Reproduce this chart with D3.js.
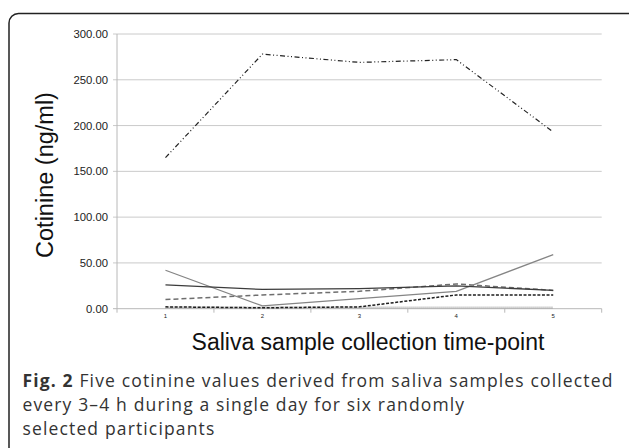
<!DOCTYPE html>
<html>
<head>
<meta charset="utf-8">
<script src="https://cdn.jsdelivr.net/npm/d3@7"></script>
<style>
  html, body { margin: 0; padding: 0; background: #fff; }
  svg { display: block; }
</style>
</head>
<body>
<svg id="chart" width="629" height="448"></svg>
<script>
// ---- data ----
const timePoints = ["1", "2", "3", "4", "5"];
const yTicks = [0, 50, 100, 150, 200, 250, 300];
const participantA = [165, 278, 269, 272, 193];   // dash-dot
const participantB = [26, 21, 22, 25, 20];        // dark solid
const participantC = [42, 3, 11, 19, 59];         // grey solid
const participantD = [10, 15, 19, 27, 20];        // long dashed
const participantE = [2, 1, 2, 15, 15];           // short dashed
const participantF = [1, 1, 1, 1, 1];             // dotted

const series = [
  { name: "F", values: participantF, color: "#a8a8a8", width: 2.4, dash: "1,1" },
  { name: "E", values: participantE, color: "#1e1e1e", width: 1.5, dash: "3,1.6" },
  { name: "D", values: participantD, color: "#6e6e6e", width: 1.5, dash: "5,3" },
  { name: "C", values: participantC, color: "#858585", width: 1.3, dash: null },
  { name: "B", values: participantB, color: "#3c3c3c", width: 1.3, dash: null },
  { name: "A", values: participantA, color: "#222222", width: 1.2, dash: "5,2.5,1,2.5,1,2.5" }
];

const svg = d3.select("#chart");

// frame (left + top rule with rounded corner)
svg.append("path")
  .attr("d", "M9,448 L9,23 A9.5,9.5 0 0 1 18.5,13.5 L629,13.5")
  .attr("fill", "none").attr("stroke", "#222").attr("stroke-width", 1.5);

const plotL = 117, plotR = 601.7, plotT = 34, plotB = 308.7;

const x = d3.scalePoint().domain(timePoints).range([plotL, plotR]).padding(0.5);
const xb = d3.scaleBand().domain(timePoints).range([plotL, plotR]);
const y = d3.scaleLinear().domain([0, 300]).range([plotB, plotT]);

// gridlines
svg.append("g").selectAll("line").data(yTicks).join("line")
  .attr("x1", plotL - 4).attr("x2", plotR)
  .attr("y1", d => y(d)).attr("y2", d => y(d))
  .attr("stroke", d => d === 0 ? "#b8b8b8" : "#cacaca").attr("stroke-width", 1);

// y axis line
svg.append("line")
  .attr("x1", plotL).attr("x2", plotL).attr("y1", plotT).attr("y2", plotB)
  .attr("stroke", "#b8b8b8").attr("stroke-width", 1);

// x tick marks at category boundaries
const bounds = timePoints.map(d => xb(d)).concat([plotR]);
svg.append("g").selectAll("line").data(bounds).join("line")
  .attr("x1", d => d).attr("x2", d => d)
  .attr("y1", plotB).attr("y2", plotB + 4)
  .attr("stroke", "#b8b8b8").attr("stroke-width", 1);

// y tick labels
svg.append("g").selectAll("text").data(yTicks).join("text")
  .attr("x", 108).attr("y", d => y(d) + 4)
  .attr("text-anchor", "end")
  .attr("font-family", "Liberation Sans, Arial, sans-serif")
  .attr("font-size", 11.3).attr("fill", "#222")
  .text(d => d.toFixed(2));

// x tick labels
svg.append("g").selectAll("text").data(timePoints).join("text")
  .attr("x", d => x(d)).attr("y", 317.5)
  .attr("text-anchor", "middle")
  .attr("font-family", "Liberation Sans, Arial, sans-serif")
  .attr("font-size", 6).attr("fill", "#222")
  .text(d => d);

// lines
const line = d3.line().x((d, i) => x(timePoints[i])).y(d => y(d));
svg.append("g").selectAll("path").data(series).join("path")
  .attr("d", d => line(d.values))
  .attr("fill", "none")
  .attr("stroke", d => d.color)
  .attr("stroke-width", d => d.width)
  .attr("stroke-dasharray", d => d.dash);

// axis titles
svg.append("text")
  .attr("x", 368).attr("y", 349.5)
  .attr("text-anchor", "middle")
  .attr("font-family", "Liberation Sans, Arial, sans-serif")
  .attr("font-size", 23).attr("fill", "#111")
  .text("Saliva sample collection time-point");

svg.append("text")
  .attr("transform", "translate(53,175) rotate(-90)")
  .attr("text-anchor", "middle")
  .attr("font-family", "Liberation Sans, Arial, sans-serif")
  .attr("font-size", 23.5).attr("fill", "#111")
  .text("Cotinine (ng/ml)");

// caption
const captionLines = [
  [{ t: "Fig. 2", b: true }, { t: " Five cotinine values derived from saliva samples collected", b: false }],
  [{ t: "every 3–4 h during a single day for six randomly", b: false }],
  [{ t: "selected participants", b: false }]
];
const cap = svg.append("g")
  .attr("font-family", "'Open Sans', sans-serif")
  .attr("font-size", 17.5).attr("fill", "#333");
const capTexts = captionLines.map((ln, i) => {
  const t = cap.append("text").attr("x", 22.5).attr("y", 387 + i * 24.2);
  ln.forEach(s => t.append("tspan").attr("font-weight", s.b ? "bold" : "normal").text(s.t));
  return t;
});
const w0 = capTexts[0].node().getComputedTextLength();
const n0 = captionLines[0].map(s => s.t).join("").length;
if (w0 > 0 && w0 < 591) cap.attr("letter-spacing", ((591 - w0) / n0).toFixed(3));
</script>
</body>
</html>
